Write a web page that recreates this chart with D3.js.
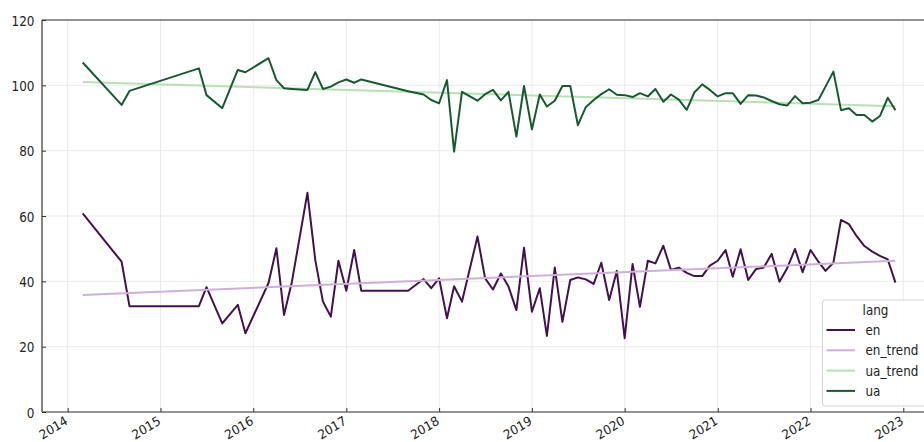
<!DOCTYPE html>
<html>
<head>
<meta charset="utf-8">
<script src="https://cdn.jsdelivr.net/npm/d3@7.9.0/dist/d3.min.js"></script>
<style>
  body { margin: 0; background: #fff; }
  svg { display: block; font-family: "DejaVu Sans", sans-serif; }
</style>
</head>
<body>
<svg width="924" height="442"></svg>
<script>
// months that have data (gaps are real, lines just join across them)
const months = [
  "2014-03", "2014-08", "2014-09",
  "2015-06", "2015-07", "2015-09", "2015-11", "2015-12",
  "2016-03", "2016-04", "2016-05", "2016-06", "2016-08", "2016-09", "2016-10", "2016-11", "2016-12",
  "2017-01", "2017-02", "2017-03", "2017-09", "2017-11", "2017-12",
  "2018-01", "2018-02", "2018-03", "2018-04", "2018-06", "2018-07", "2018-08", "2018-09", "2018-10", "2018-11", "2018-12",
  "2019-01", "2019-02", "2019-03", "2019-04", "2019-05", "2019-06", "2019-07", "2019-08", "2019-09", "2019-10", "2019-11", "2019-12",
  "2020-01", "2020-02", "2020-03", "2020-04", "2020-05", "2020-06", "2020-07", "2020-08", "2020-09", "2020-10", "2020-11", "2020-12",
  "2021-01", "2021-02", "2021-03", "2021-04", "2021-05", "2021-06", "2021-07", "2021-08", "2021-09", "2021-10", "2021-11", "2021-12",
  "2022-01", "2022-02", "2022-03", "2022-04", "2022-05", "2022-06", "2022-07", "2022-08", "2022-09", "2022-10", "2022-11", "2022-12"
];

const en = [
  60.8, 46.0, 32.4,
  32.4, 38.2, 27.1, 32.8, 24.1,
  39.5, 50.1, 29.7, 39.9, 67.1, 46.5, 33.8, 29.2, 46.3,
  37.1, 49.6, 37.1, 37.1, 40.7, 37.9,
  40.9, 28.7, 38.5, 33.8, 53.7, 40.9, 37.5, 42.4, 38.4, 31.2, 50.3,
  30.7, 37.9, 23.3, 44.2, 27.6, 40.4, 41.2, 40.6, 39.2, 45.7, 34.3, 43.2,
  22.6, 45.3, 32.2, 46.3, 45.5, 50.9, 43.5, 44.2, 42.6, 41.6, 41.6, 44.8,
  46.3, 49.6, 41.4, 49.8, 40.4, 43.8, 44.2, 48.4, 39.9, 44.0, 49.9, 42.8,
  49.6, 46.0, 43.2, 45.7, 58.8, 57.5, 53.9, 50.8, 49.1, 47.8, 46.7, 39.6
];

const ua = [
  107.0, 94.0, 98.3,
  105.2, 97.0, 93.0, 104.7, 104.0,
  108.3, 101.6, 99.1, 98.9, 98.6, 104.0, 98.9, 99.6, 100.9,
  101.8, 100.8, 101.8, 98.2, 97.2, 95.5,
  94.5, 101.6, 79.7, 98.0, 95.3, 97.3, 98.6, 95.4, 98.0, 84.3, 99.8,
  86.5, 97.2, 93.5, 95.3, 99.8, 99.8, 87.8, 93.3, 95.5, 97.3, 98.8, 97.1,
  97.0, 96.4, 97.6, 96.6, 98.9, 95.0, 97.2, 95.6, 92.5, 97.8, 100.3, 98.6,
  96.6, 97.6, 97.6, 94.3, 97.0, 96.9, 96.3, 95.2, 94.2, 93.8, 96.7, 94.5,
  94.7, 95.5, 99.6, 104.2, 92.4, 93.0, 90.9, 90.9, 88.9, 90.6, 96.2, 92.4
];

// fitted trend lines, read at first and last month
const enTrend = [35.8, 46.3];
const uaTrend = [101.0, 93.6];

const yTicks = [0, 20, 40, 60, 80, 100, 120];
const xYears = [2014, 2015, 2016, 2017, 2018, 2019, 2020, 2021, 2022, 2023];

const seriesNames = ["en", "en_trend", "ua_trend", "ua"];
const colors = {
  en: "#42124d",
  en_trend: "#cdb0da",
  ua_trend: "#b9e0b3",
  ua: "#175a31"
};

const parseMonth = d3.timeParse("%Y-%m");
const dates = months.map(parseMonth);

const svg = d3.select("svg");
const plotLeft = 42, plotTop = 20, plotBottom = 412, plotRight = 940;
const stretch = 1.18; // the picture's text is a bit taller than wide

const x = d3.scaleTime()
  .domain([new Date(2014, 0, 1), new Date(2023, 0, 1)])
  .range([67.7, 903.3]);
const y = d3.scaleLinear().domain([0, 120]).range([plotBottom, plotTop]);

// grid
svg.append("g").selectAll("line").data(xYears).join("line")
  .attr("x1", d => x(new Date(d, 0, 1))).attr("x2", d => x(new Date(d, 0, 1)))
  .attr("y1", plotTop).attr("y2", plotBottom)
  .attr("stroke", "#ebebeb").attr("stroke-width", 1);
svg.append("g").selectAll("line").data(yTicks).join("line")
  .attr("x1", plotLeft).attr("x2", plotRight)
  .attr("y1", d => y(d)).attr("y2", d => y(d))
  .attr("stroke", "#ebebeb").attr("stroke-width", 1);

// lines
const line = d3.line().x(d => x(d[0])).y(d => y(d[1]));
const first = dates[0], last = dates[dates.length - 1];
const lines = {
  en: dates.map((d, i) => [d, en[i]]),
  en_trend: [[first, enTrend[0]], [last, enTrend[1]]],
  ua_trend: [[first, uaTrend[0]], [last, uaTrend[1]]],
  ua: dates.map((d, i) => [d, ua[i]])
};
seriesNames.forEach(name => {
  svg.append("path")
    .attr("d", line(lines[name]))
    .attr("fill", "none")
    .attr("stroke", colors[name])
    .attr("stroke-width", 2)
    .attr("stroke-linejoin", "round");
});

// axes, ticks pointing inward
const yAxis = d3.axisLeft(y).tickValues(yTicks).tickSizeInner(-4).tickSizeOuter(0).tickPadding(7);
const gy = svg.append("g").attr("transform", `translate(${plotLeft},0)`).call(yAxis);
gy.select(".domain").remove();
gy.selectAll("line").attr("stroke", "#333");
gy.selectAll("text")
  .attr("font-size", 12).attr("fill", "#222").attr("font-family", "DejaVu Sans")
  .attr("x", 0).attr("dy", "0.36em")
  .attr("transform", `translate(-7.5,0) scale(1,${stretch})`);

const xAxis = d3.axisBottom(x)
  .tickValues(xYears.map(d => new Date(d, 0, 1)))
  .tickFormat(d3.timeFormat("%Y"))
  .tickSizeInner(-4).tickSizeOuter(0);
const gx = svg.append("g").attr("transform", `translate(0,${plotBottom})`).call(xAxis);
gx.select(".domain").remove();
gx.selectAll("line").attr("stroke", "#333");
gx.selectAll("text")
  .attr("font-size", 12).attr("fill", "#222").attr("font-family", "DejaVu Sans")
  .attr("text-anchor", "end")
  .attr("y", 0).attr("dy", "0.75em")
  .attr("transform", "translate(-4,3) scale(1,1.08) rotate(-30)");

// spines
svg.append("line").attr("x1", plotLeft).attr("x2", plotLeft).attr("y1", plotTop).attr("y2", plotBottom)
  .attr("stroke", "#333").attr("stroke-width", 1.2);
svg.append("line").attr("x1", plotLeft).attr("x2", plotRight).attr("y1", plotBottom).attr("y2", plotBottom)
  .attr("stroke", "#333").attr("stroke-width", 1.2);
svg.append("line").attr("x1", plotLeft).attr("x2", plotRight).attr("y1", plotTop).attr("y2", plotTop)
  .attr("stroke", "#333").attr("stroke-width", 1.2);

// legend
const lg = svg.append("g").attr("transform", "translate(822.5,300)");
lg.append("rect").attr("width", 110).attr("height", 106).attr("rx", 3)
  .attr("fill", "#fff").attr("fill-opacity", 0.85).attr("stroke", "#d4d4d4");
lg.append("text").attr("text-anchor", "middle")
  .attr("transform", `translate(53,10) scale(1,${stretch})`).attr("dy", "0.36em")
  .attr("font-size", 12).attr("fill", "#222").text("lang");
seriesNames.forEach((name, i) => {
  const yy = 30 + i * 20.3;
  lg.append("line").attr("x1", 4).attr("x2", 32.5).attr("y1", yy).attr("y2", yy)
    .attr("stroke", colors[name]).attr("stroke-width", 2);
  lg.append("text").attr("transform", `translate(43,${yy}) scale(1,${stretch})`).attr("dy", "0.36em")
    .attr("font-size", 12).attr("fill", "#222").text(name);
});
</script>
</body>
</html>
